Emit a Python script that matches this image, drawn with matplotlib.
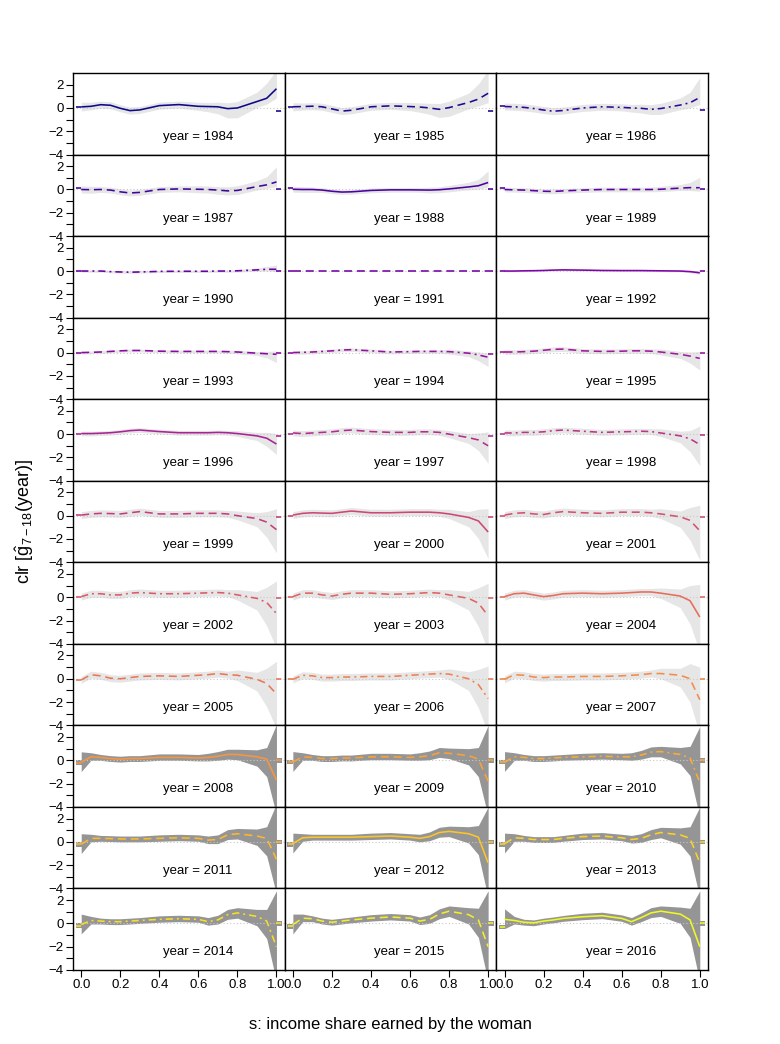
import numpy as np
import matplotlib
matplotlib.use('Agg')
import matplotlib.pyplot as plt

plt.rcParams['font.family'] = ['Liberation Sans', 'DejaVu Sans']
plt.rcParams['mathtext.fontset'] = 'custom'
plt.rcParams['mathtext.rm'] = 'Liberation Sans'
plt.rcParams['mathtext.it'] = 'Liberation Sans:italic'

years = list(range(1984, 2017))
s_grid = [0, .05, .1, .15, .2, .25, .3, .4, .5, .6, .65, .7, .75, .8, .9, .95, 1.0]

# estimated clr curve per year, read at s_grid
fit = [
    [0.09, 0.14, 0.28, 0.23, -0.03, -0.23, -0.17, 0.2, 0.29, 0.14, 0.12, 0.1, -0.06, 0.0, 0.55, 0.83, 1.65],
    [0.1, 0.12, 0.15, 0.1, -0.08, -0.27, -0.2, 0.1, 0.18, 0.12, 0.08, 0.0, -0.12, 0.03, 0.47, 0.76, 1.26],
    [0.12, 0.1, 0.05, -0.05, -0.18, -0.28, -0.22, 0.0, 0.1, 0.05, 0.0, -0.03, -0.12, -0.05, 0.25, 0.45, 0.9],
    [0.0, -0.02, 0.0, -0.05, -0.2, -0.3, -0.25, 0.0, 0.05, 0.02, 0.0, -0.05, -0.12, -0.08, 0.25, 0.4, 0.65],
    [0.02, 0.0, 0.0, -0.05, -0.15, -0.22, -0.2, -0.08, -0.03, -0.03, -0.04, -0.05, -0.02, 0.05, 0.22, 0.32, 0.6],
    [0.0, -0.03, -0.05, -0.1, -0.15, -0.17, -0.12, -0.05, 0.0, 0.0, 0.0, 0.0, 0.0, 0.02, 0.12, 0.16, 0.15],
    [0.0, 0.0, 0.0, -0.05, -0.08, -0.1, -0.08, -0.03, -0.02, -0.02, -0.02, 0.0, 0.0, 0.02, 0.1, 0.15, 0.15],
    [0.0] * 17,
    [0.0, 0.0, 0.02, 0.03, 0.05, 0.08, 0.1, 0.08, 0.05, 0.04, 0.04, 0.04, 0.03, 0.02, 0.0, -0.05, -0.15],
    [0.0, 0.02, 0.05, 0.1, 0.15, 0.18, 0.18, 0.12, 0.1, 0.1, 0.1, 0.1, 0.08, 0.05, -0.05, -0.1, -0.15],
    [0.0, 0.02, 0.05, 0.1, 0.15, 0.22, 0.25, 0.15, 0.05, 0.08, 0.1, 0.1, 0.1, 0.08, -0.05, -0.2, -0.4],
    [0.05, 0.05, 0.08, 0.12, 0.2, 0.28, 0.3, 0.15, 0.1, 0.12, 0.15, 0.15, 0.12, 0.05, -0.15, -0.3, -0.5],
    [0.05, 0.05, 0.08, 0.12, 0.2, 0.3, 0.35, 0.22, 0.12, 0.12, 0.12, 0.15, 0.12, 0.05, -0.15, -0.35, -0.85],
    [0.1, 0.05, 0.1, 0.15, 0.2, 0.3, 0.35, 0.22, 0.15, 0.15, 0.2, 0.2, 0.15, 0.0, -0.3, -0.5, -1.0],
    [0.1, 0.1, 0.15, 0.15, 0.2, 0.3, 0.35, 0.25, 0.15, 0.2, 0.22, 0.25, 0.22, 0.1, -0.15, -0.4, -0.9],
    [0.05, 0.15, 0.2, 0.18, 0.15, 0.25, 0.35, 0.15, 0.15, 0.2, 0.2, 0.2, 0.15, 0.0, -0.25, -0.55, -1.2],
    [0.05, 0.2, 0.25, 0.22, 0.2, 0.3, 0.4, 0.25, 0.25, 0.3, 0.3, 0.3, 0.25, 0.15, -0.15, -0.45, -1.4],
    [0.05, 0.2, 0.25, 0.15, 0.1, 0.25, 0.35, 0.25, 0.2, 0.3, 0.3, 0.3, 0.25, 0.15, -0.1, -0.4, -1.3],
    [0.05, 0.3, 0.3, 0.2, 0.2, 0.35, 0.4, 0.3, 0.3, 0.35, 0.38, 0.4, 0.35, 0.2, -0.1, -0.45, -1.4],
    [0.05, 0.35, 0.35, 0.2, 0.1, 0.25, 0.35, 0.35, 0.25, 0.3, 0.35, 0.4, 0.35, 0.2, -0.1, -0.5, -1.6],
    [0.05, 0.3, 0.35, 0.2, 0.05, 0.15, 0.3, 0.35, 0.3, 0.35, 0.4, 0.45, 0.45, 0.35, 0.1, -0.3, -1.7],
    [-0.1, 0.35, 0.25, 0.05, 0.0, 0.1, 0.2, 0.25, 0.2, 0.3, 0.35, 0.45, 0.35, 0.3, -0.05, -0.4, -1.3],
    [-0.05, 0.3, 0.25, 0.1, 0.1, 0.15, 0.15, 0.2, 0.2, 0.3, 0.35, 0.4, 0.45, 0.4, 0.0, -0.5, -1.7],
    [-0.05, 0.35, 0.3, 0.15, 0.1, 0.15, 0.15, 0.2, 0.2, 0.25, 0.3, 0.35, 0.45, 0.45, 0.3, 0.0, -1.8],
    [-0.17, 0.3, 0.25, 0.15, 0.1, 0.15, 0.15, 0.25, 0.25, 0.2, 0.25, 0.35, 0.5, 0.5, 0.3, 0.1, -1.7],
    [-0.15, 0.3, 0.25, 0.15, 0.15, 0.2, 0.2, 0.3, 0.3, 0.25, 0.3, 0.4, 0.65, 0.6, 0.4, 0.1, -1.8],
    [-0.15, 0.3, 0.25, 0.15, 0.15, 0.2, 0.25, 0.3, 0.35, 0.3, 0.3, 0.45, 0.7, 0.75, 0.5, 0.2, -1.9],
    [-0.2, 0.3, 0.3, 0.28, 0.25, 0.25, 0.25, 0.3, 0.35, 0.3, 0.15, 0.2, 0.6, 0.7, 0.5, 0.3, -1.5],
    [-0.15, 0.35, 0.4, 0.4, 0.4, 0.4, 0.4, 0.45, 0.5, 0.4, 0.3, 0.45, 0.8, 0.9, 0.7, 0.4, -1.8],
    [-0.15, 0.35, 0.3, 0.2, 0.2, 0.2, 0.3, 0.45, 0.5, 0.35, 0.2, 0.3, 0.6, 0.8, 0.6, 0.3, -1.8],
    [-0.1, 0.25, 0.2, 0.15, 0.15, 0.2, 0.25, 0.35, 0.4, 0.35, 0.15, 0.3, 0.75, 0.9, 0.6, 0.2, -2.0],
    [-0.1, 0.45, 0.4, 0.2, 0.1, 0.2, 0.3, 0.45, 0.55, 0.45, 0.2, 0.35, 0.8, 1.05, 0.75, 0.3, -2.0],
    [0.35, 0.25, 0.1, 0.05, 0.2, 0.3, 0.43, 0.57, 0.66, 0.43, 0.15, 0.5, 0.9, 1.05, 0.8, 0.3, -2.0],
]

# spread of the bootstrap curves below / above the fit, at s_grid
dark_dn = [0.8, 0.3, 0.25, 0.25, 0.25, 0.25, 0.25, 0.25, 0.25, 0.25, 0.3, 0.35, 0.4, 0.45, 0.8, 1.5, 3.0]
dark_up = [0.9, 0.35, 0.25, 0.25, 0.25, 0.25, 0.25, 0.3, 0.3, 0.3, 0.35, 0.4, 0.45, 0.45, 0.6, 1.0, 4.8]
band_dn = [
    [0.35, 0.3, 0.3, 0.3, 0.3, 0.3, 0.3, 0.3, 0.3, 0.35, 0.45, 0.6, 0.8, 0.85, 0.5, 0.5, 0.8],
    [0.35, 0.3, 0.3, 0.3, 0.3, 0.3, 0.3, 0.3, 0.3, 0.35, 0.45, 0.55, 0.7, 0.75, 0.55, 0.6, 0.8],
    [0.3] * 10 + [0.35, 0.4, 0.45, 0.5, 0.4, 0.45, 0.6],
    [0.3, 0.3] + [0.25] * 7 + [0.3, 0.3, 0.35, 0.35, 0.35, 0.3, 0.3, 0.4],
    [0.25, 0.25, 0.25] + [0.2] * 8 + [0.25, 0.25, 0.25, 0.25, 0.3, 0.4],
    [0.2] * 15 + [0.25, 0.3],
    [0.1] * 14 + [0.12, 0.15, 0.2],
    [0.02] * 17,
    [0.07] * 14 + [0.08, 0.1, 0.12],
    [0.12] * 13 + [0.15, 0.2, 0.35, 0.7],
    [0.15] * 13 + [0.2, 0.3, 0.5, 0.8],
    [0.2] * 13 + [0.25, 0.35, 0.6, 1.0],
    [0.2] * 13 + [0.25, 0.4, 0.7, 0.9],
    [0.25] * 13 + [0.3, 0.5, 0.9, 1.5],
    [0.25] * 13 + [0.3, 0.6, 1.1, 1.8],
    [0.3] * 13 + [0.35, 0.7, 1.3, 2.0],
    [0.3] * 13 + [0.4, 0.8, 1.5, 2.3],
    [0.3] * 13 + [0.4, 0.9, 1.7, 2.5],
    [0.3] * 13 + [0.45, 1.0, 2.0, 3.0],
    [0.3] * 13 + [0.45, 1.0, 2.0, 3.0],
    [0.3] * 13 + [0.45, 1.0, 2.0, 3.0],
    [0.3] * 13 + [0.45, 1.0, 2.0, 3.0],
    [0.3] * 13 + [0.45, 1.0, 2.0, 3.0],
    [0.3] * 13 + [0.45, 1.0, 2.0, 3.0],
] + [dark_dn] * 9
band_up = [
    [0.4, 0.35, 0.3, 0.3, 0.3, 0.3, 0.3, 0.3, 0.3, 0.35, 0.35, 0.4, 0.5, 0.55, 0.8, 1.3, 1.6],
    [0.35, 0.3, 0.3, 0.3, 0.3, 0.3, 0.3, 0.3, 0.3, 0.35, 0.35, 0.4, 0.5, 0.55, 0.8, 1.3, 2.0],
    [0.3] * 11 + [0.35, 0.4, 0.45, 0.6, 0.9, 1.7],
    [0.3, 0.3] + [0.25] * 7 + [0.3, 0.3, 0.3, 0.35, 0.4, 0.5, 0.7, 1.3],
    [0.25, 0.25] + [0.2] * 9 + [0.25, 0.25, 0.3, 0.4, 0.55, 1.0],
    [0.2] * 13 + [0.25, 0.3, 0.45, 0.9],
    [0.1] * 13 + [0.12, 0.15, 0.25, 0.35],
    [0.02] * 17,
    [0.07] * 14 + [0.08, 0.1, 0.12],
    [0.12] * 13 + [0.15, 0.15, 0.2, 0.3],
    [0.15] * 13 + [0.2, 0.2, 0.25, 0.35],
    [0.2] * 13 + [0.25, 0.25, 0.35, 0.6],
    [0.2] * 13 + [0.25, 0.3, 0.5, 0.9],
    [0.25] * 13 + [0.3, 0.35, 0.6, 1.2],
    [0.25] * 13 + [0.35, 0.4, 0.7, 1.6],
    [0.3] * 13 + [0.4, 0.5, 0.9, 1.8],
    [0.3] * 13 + [0.4, 0.5, 1.0, 2.0],
    [0.3] * 13 + [0.45, 0.5, 1.1, 2.2],
    [0.3] * 13 + [0.45, 0.6, 1.3, 2.8],
    [0.3] * 13 + [0.45, 0.6, 1.3, 2.8],
    [0.3] * 13 + [0.45, 0.6, 1.3, 2.8],
    [0.3] * 13 + [0.45, 0.6, 1.3, 2.8],
    [0.3] * 13 + [0.45, 0.6, 1.3, 2.8],
    [0.3] * 13 + [0.45, 0.6, 1.3, 2.8],
] + [dark_up] * 9

# point masses at s = 0 and s = 1
mass_left = [0.1, 0.12, 0.15, 0.15, 0.15, 0.12, 0.0, 0.0, 0.0, 0.0, 0.0, 0.05, 0.05, 0.05, 0.05, 0.05, 0.0,
             0.0, 0.0, 0.0, 0.0, -0.1, -0.05, -0.05, -0.2, -0.15, -0.15, -0.2, -0.2, -0.2, -0.2, -0.25, -0.3]
mass_right = [-0.3, -0.25, -0.15, 0.0, 0.0, 0.0, 0.02, 0.0, -0.02, -0.05, -0.1, -0.05, -0.15, -0.15, -0.1, -0.15,
              -0.15, -0.1, -0.05, -0.05, 0.0, 0.0, 0.0, 0.0, 0.0, 0.0, 0.0, 0.0, 0.0, 0.0, 0.0, 0.0, 0.0]
mass_spread = [0.08] * 7 + [0.02] + [0.08] * 16 + [0.2] * 9

W, H = 780, 1044
left, right, top, bottom = 73, 708, 73, 970
ncol, nrow = 3, 11
pw = (right - left) / ncol
ph = (bottom - top) / nrow

fig = plt.figure(figsize=(W / 100, H / 100), dpi=100)
cmap = plt.get_cmap('plasma')
s = np.array(s_grid)

for i, yr in enumerate(years):
    r, c = divmod(i, ncol)
    ax = fig.add_axes([(left + c * pw) / W, 1 - (top + (r + 1) * ph) / H, pw / W, ph / H])
    f = np.array(fit[i])
    dark = yr >= 2008
    shade = '#959595' if dark else '#e6e6e6'
    ax.fill_between(s, f - np.array(band_dn[i]), f + np.array(band_up[i]), color=shade, lw=0, zorder=1)
    for xa, xb, m in [(-0.028, 0.003, mass_left[i]), (0.997, 1.028, mass_right[i])]:
        ax.fill_between([xa, xb], m - mass_spread[i], m + mass_spread[i], color=shade, lw=0, zorder=1)
    ax.axhline(0, color='#c8c8c8', lw=0.8, ls=(0, (1, 2)), zorder=2)

    col = cmap(i / (len(years) - 1))
    if yr % 4 == 0:
        dash = None
    elif yr % 4 == 2:
        dash = (4.5, 2.5, 1.2, 2.5)
    else:
        dash = (5, 3)
    kw = dict(color=col, lw=1.15, zorder=3, solid_capstyle='butt', dash_capstyle='butt')
    if dash:
        kw['dashes'] = dash
    ax.plot(s, f, **kw)
    ax.plot([-0.025, 0.0], [mass_left[i]] * 2, **kw)
    ax.plot([1.0, 1.025], [mass_right[i]] * 2, **kw)

    ax.text(0.59, 0.215, 'year = %d' % yr, transform=ax.transAxes, ha='center', va='center', fontsize=9.5)

    ax.set_xlim(-0.042, 1.042)
    ax.set_ylim(-4, 3)
    for sp in ax.spines.values():
        sp.set_linewidth(1.0)
    ax.tick_params(direction='out', length=4.8, width=0.8, labelsize=9.5, pad=2)
    if c == 0:
        ax.set_yticks(range(-4, 3))
        ax.set_yticklabels(['\u22124', '', '\u22122', '', '0', '', '2'])
    else:
        ax.set_yticks([])
    if r == nrow - 1:
        ax.set_xticks([0, 0.2, 0.4, 0.6, 0.8, 1.0])
        ax.set_xticklabels(['0.0', '0.2', '0.4', '0.6', '0.8', '1.0'])
    else:
        ax.set_xticks([])

fig.text(390 / W, 1 - 1025 / H, 's: income share earned by the woman', ha='center', va='center', fontsize=12)
fig.text(25 / W, 1 - 521 / H, r'clr $[\hat{\mathrm{g}}_{7-18}(\mathrm{year})]$', rotation=90,
         ha='center', va='center', fontsize=13)

fig.savefig('out.png', dpi=100)
